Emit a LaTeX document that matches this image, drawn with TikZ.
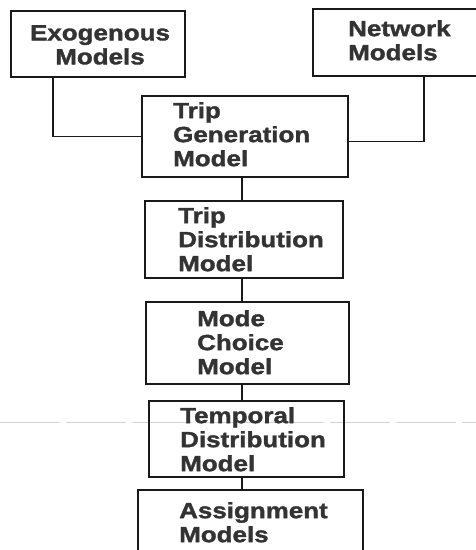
\documentclass[tikz,border=0pt]{standalone}
\usepackage{fontspec}
\newfontfamily\boxfont[FakeStretch=1.18,FakeBold=1.6]{Liberation Sans Bold}
\begin{document}
\begin{tikzpicture}[x=1pt,y=-1pt,
  modelbox/.style={draw=black!90, line width=1.8pt, minimum width=#1, inner sep=0pt},
  lbl/.style={inner sep=0pt, anchor=north west, align=left, text=black!80,
    font=\boxfont\fontsize{22}{24}\selectfont},
  link/.style={draw=black!90, line width=1.8pt}]
\useasboundingbox (0,0) rectangle (476,550);
\clip (0,0) rectangle (476,550);
% scan artefact line
\draw[gray!35, line width=0.7pt, dash pattern=on 60pt off 6pt] (0,422) -- (476,422);
% boxes
\node[modelbox=174pt, minimum height=66pt] (exo) at (98,44) {};
\node[modelbox=167pt, minimum height=67pt] (net) at (396.5,42.5) {};
\node[modelbox=206pt, minimum height=81pt] (gen) at (245,136.5) {};
\node[modelbox=198pt, minimum height=77pt] (dist) at (244,239.5) {};
\node[modelbox=203pt, minimum height=82pt] (mode) at (247.5,343) {};
\node[modelbox=195pt, minimum height=76pt] (temp) at (246.5,439) {};
\node[modelbox=225pt, minimum height=70pt] (asg) at (250.5,525) {};
% labels
\node[lbl, anchor=north, align=center] (exoT) at (100,25) {Exogenous\\Models};
\node[lbl] (netT) at (348,20) {Network\\Models};
\node[lbl] (genT) at (173,102) {Trip\\Generation\\Model};
\node[lbl] (distT) at (178,207) {Trip\\Distribution\\Model};
\node[lbl] (modeT) at (197,310) {Mode\\Choice\\Model};
\node[lbl] (tempT) at (180,407) {Temporal\\Distribution\\Model};
\node[lbl] (asgT) at (179,502) {Assignment\\Models};
% connector guides
\coordinate (vx) at (242,0);
\coordinate (ex) at (53,0);
\coordinate (nx) at (424,0);
% connectors
\draw[link] (exo.south -| ex) |- (gen.west);
\draw[link] (net.south -| nx) |- ([yshift=-5pt]gen.east);
\draw[link] (gen.south -| vx) -- (dist.north -| vx);
\draw[link] (dist.south -| vx) -- (mode.north -| vx);
\draw[link] (mode.south -| vx) -- (temp.north -| vx);
\draw[link] (temp.south -| vx) -- (asg.north -| vx);
\end{tikzpicture}
\end{document}
